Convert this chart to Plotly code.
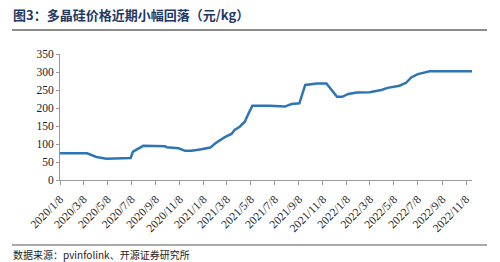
import plotly.graph_objects as go

dates = ["2020-01-08", "2020-03-17", "2020-04-10", "2020-05-05", "2020-07-06", "2020-07-12",
         "2020-08-07", "2020-10-02", "2020-10-06", "2020-11-05", "2020-11-22", "2020-12-08",
         "2020-12-30", "2021-01-25", "2021-02-07", "2021-03-03", "2021-03-20", "2021-03-28",
         "2021-04-10", "2021-04-23", "2021-05-01", "2021-05-12", "2021-06-26", "2021-07-21",
         "2021-08-03", "2021-08-20", "2021-09-09", "2021-09-24", "2021-10-24", "2021-11-17",
         "2021-12-14", "2021-12-27", "2022-01-12", "2022-02-02", "2022-03-07", "2022-04-06",
         "2022-04-22", "2022-05-22", "2022-06-08", "2022-06-21", "2022-07-08", "2022-08-07",
         "2022-11-23"]
prices = [74, 74, 64, 59, 61, 79,
          95, 94, 91, 88, 81, 81,
          85, 90, 102, 119, 128, 139,
          148, 162, 181, 206, 206, 204,
          204, 211, 213, 264, 268, 268,
          231, 231, 239, 243, 244, 250,
          256, 262, 270, 285, 294, 302,
          302]

tick_vals = ["2020-01-08", "2020-03-08", "2020-05-08", "2020-07-08", "2020-09-08", "2020-11-08",
             "2021-01-08", "2021-03-08", "2021-05-08", "2021-07-08", "2021-09-08", "2021-11-08",
             "2022-01-08", "2022-03-08", "2022-05-08", "2022-07-08", "2022-09-08", "2022-11-08"]
tick_text = ["2020/1/8", "2020/3/8", "2020/5/8", "2020/7/8", "2020/9/8", "2020/11/8",
             "2021/1/8", "2021/3/8", "2021/5/8", "2021/7/8", "2021/9/8", "2021/11/8",
             "2022/1/8", "2022/3/8", "2022/5/8", "2022/7/8", "2022/9/8", "2022/11/8"]

title_text = "图3：多晶硅价格近期小幅回落（元/kg）"
source_text = "数据来源：pvinfolink、开源证券研究所"

W, H = 500, 262
L, R, T, B = 60, 28, 54, 82
pw, ph = W - L - R, H - T - B

def px(x):
    return (x - L) / pw

def py(y):
    return (H - B - y) / ph

fig = go.Figure()
fig.add_trace(go.Scatter(x=dates, y=prices, mode="lines",
                         line=dict(color="#2E75B6", width=2.5), showlegend=False))

serif = "Liberation Serif, Times New Roman, serif"
fig.update_layout(
    width=W, height=H,
    margin=dict(l=L, r=R, t=T, b=B),
    paper_bgcolor="white", plot_bgcolor="white",
    xaxis=dict(type="date", range=["2020-01-08", "2022-11-23"],
               tickmode="array", tickvals=tick_vals, ticktext=tick_text,
               tickangle=-45, tickfont=dict(family=serif, size=11.5, color="#222"),
               ticklabelstandoff=3,
               showgrid=False, zeroline=False, showline=True, linecolor="#9a9a9a",
               linewidth=1, ticks="outside", ticklen=4, tickcolor="#9a9a9a"),
    yaxis=dict(range=[0, 350], tickvals=[0, 50, 100, 150, 200, 250, 300, 350],
               tickfont=dict(family=serif, size=11.5, color="#222"),
               showgrid=False, zeroline=False, showline=True, linecolor="#9a9a9a",
               linewidth=1, ticks="outside", ticklen=3, tickcolor="#9a9a9a"),
    annotations=[
        dict(text="<b>" + title_text + "</b>", xref="paper", yref="paper",
             x=px(11), y=py(14), xanchor="left", yanchor="middle", showarrow=False,
             font=dict(family="Noto Sans CJK SC", size=13, color="#1F3864")),
        dict(text=source_text, xref="paper", yref="paper",
             x=px(11), y=py(254), xanchor="left", yanchor="middle", showarrow=False,
             font=dict(family="Noto Sans CJK SC", size=10, color="#222")),
    ],
    shapes=[
        dict(type="line", xref="paper", yref="paper", x0=px(12), x1=px(487),
             y0=py(30), y1=py(30), line=dict(color="#8c8c8c", width=2)),
        dict(type="line", xref="paper", yref="paper", x0=px(12), x1=px(487),
             y0=py(245), y1=py(245), line=dict(color="#555555", width=1)),
    ],
)

fig.write_html("out.html")
